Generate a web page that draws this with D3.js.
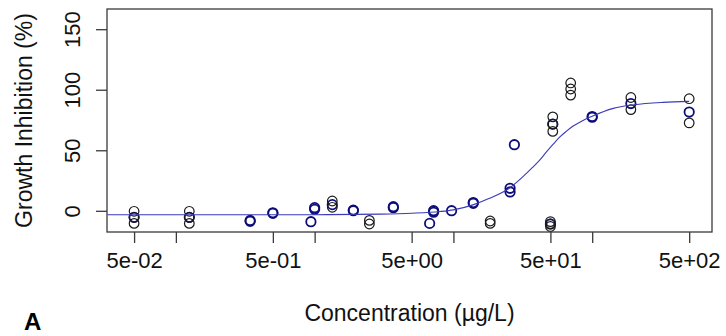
<!DOCTYPE html>
<html>
<head>
<meta charset="utf-8">
<script src="https://cdn.jsdelivr.net/npm/d3@7"></script>
<style>
  body { margin: 0; background: #fff; }
  svg { display: block; font-family: "Liberation Sans", Arial, sans-serif; }
</style>
</head>
<body>
<svg id="chart" width="726" height="336"></svg>
<script>
// Observations drawn in black (replicates)
const blackConc = [0.05, 0.05, 0.05, 0.125, 0.125, 0.125, 1.34, 1.34, 2.48, 2.48,
  18.4, 18.4, 52, 52, 52, 50, 50, 50, 70, 70, 70, 190, 190, 500, 500];
const blackResp = [0, -5, -10, 0, -5, -10, 8.5, 3.3, -7.5, -10.5,
  -8, -10, 78, 72, 66, -8.5, -10.5, -12.5, 106, 101, 96, 94, 84, 93, 73];

// Observations drawn in navy
const navyConc = [0.05, 0.125, 0.343, 0.343, 0.5, 0.5, 0.94, 1, 1, 1.34, 1.9, 1.9,
  3.69, 3.69, 6.74, 7.2, 7.2, 9.7, 13.9, 13.9, 25.6, 25.6, 27.5, 52, 50,
  100, 100, 190, 500];
const navyResp = [-5, -5, -7.5, -8.3, -1.2, -1.7, -8.6, 1.6, 3, 5.5, 0.5, 1,
  3, 3.8, -10, 0.5, -0.8, 0.5, 6.6, 7.2, 19, 16, 55, 72, -10.5,
  77.7, 78.3, 89, 82];

// Fitted dose-response curve
const fitConc = [0.032, 0.05, 1, 3, 5, 8, 10, 14, 18, 25.6, 32, 37, 42, 46, 52, 58, 65, 72, 82, 100, 142, 200, 325, 500];
const fitResp = [-2.8, -2.8, -2.8, -2.3, -1.6, -0.2, 1.2, 5.5, 10.5, 19.5, 29, 36, 42.5, 48, 55, 61, 66, 70, 73.8, 78.5, 85, 88, 90, 90.8];

const xTicks = [0.05, 0.1, 0.5, 1, 5, 10, 50, 100, 500];
const xLabels = ["5e-02", "", "5e-01", "", "5e+00", "", "5e+01", "", "5e+02"];
const yTicks = [0, 50, 100, 150];

const svg = d3.select("#chart");
const plotL = 107, plotR = 712, plotT = 9, plotB = 232;

const x = d3.scaleLog().domain([0.0319, 730]).range([plotL, plotR]);
const y = d3.scaleLinear().domain([-17.1, 167.1]).range([plotB, plotT]);

// Plot box
svg.append("rect")
  .attr("x", plotL).attr("y", plotT)
  .attr("width", plotR - plotL).attr("height", plotB - plotT)
  .attr("fill", "none")
  .attr("stroke", "#3a3a3a")
  .attr("stroke-width", 1.3);

// X axis
const xAxis = d3.axisBottom(x)
  .tickValues(xTicks)
  .tickFormat((d, i) => xLabels[i])
  .tickSize(11)
  .tickPadding(5);

const gx = svg.append("g")
  .attr("transform", `translate(0,${plotB})`)
  .call(xAxis);
gx.select(".domain").remove();
gx.selectAll("line").attr("stroke", "#3a3a3a").attr("stroke-width", 1.3);
gx.selectAll("text")
  .attr("font-size", "22px")
  .attr("font-family", "Liberation Sans, Arial, sans-serif")
  .attr("fill", "#111")
  .attr("dy", "0.9em");

// Y axis (labels parallel to axis)
const gy = svg.append("g").attr("transform", `translate(${plotL},0)`);
gy.selectAll("line")
  .data(yTicks)
  .join("line")
  .attr("x1", -11).attr("x2", 0)
  .attr("y1", d => y(d)).attr("y2", d => y(d))
  .attr("stroke", "#3a3a3a")
  .attr("stroke-width", 1.3);
gy.selectAll("text")
  .data(yTicks)
  .join("text")
  .attr("transform", d => `translate(-27,${y(d)}) rotate(-90)`)
  .attr("text-anchor", "middle")
  .attr("font-size", "22px")
  .attr("fill", "#111")
  .text(d => d);

// Axis titles
svg.append("text")
  .attr("x", (plotL + plotR) / 2)
  .attr("y", 321)
  .attr("text-anchor", "middle")
  .attr("font-size", "23px")
  .attr("fill", "#111")
  .text("Concentration (µg/L)");

svg.append("text")
  .attr("transform", `translate(32,${(plotT + plotB) / 2}) rotate(-90)`)
  .attr("text-anchor", "middle")
  .attr("font-size", "23px")
  .attr("fill", "#111")
  .text("Growth Inhibition (%)");

// Panel letter
svg.append("text")
  .attr("x", 24)
  .attr("y", 330)
  .attr("font-size", "24px")
  .attr("font-weight", "bold")
  .attr("fill", "#000")
  .text("A");

// Points
svg.append("g")
  .selectAll("circle")
  .data(navyConc.map((c, i) => [c, navyResp[i]]))
  .join("circle")
  .attr("cx", d => x(d[0]))
  .attr("cy", d => y(d[1]))
  .attr("r", 4.7)
  .attr("fill", "none")
  .attr("stroke", "#0c0c7a")
  .attr("stroke-width", 1.8);

svg.append("g")
  .selectAll("circle")
  .data(blackConc.map((c, i) => [c, blackResp[i]]))
  .join("circle")
  .attr("cx", d => x(d[0]))
  .attr("cy", d => y(d[1]))
  .attr("r", 4.8)
  .attr("fill", "none")
  .attr("stroke", "#1a1a1a")
  .attr("stroke-width", 1.2);

// Fitted curve
const line = d3.line()
  .x(d => x(d[0]))
  .y(d => y(d[1]))
  .curve(d3.curveMonotoneX);

svg.append("path")
  .datum(fitConc.map((c, i) => [c, fitResp[i]]))
  .attr("d", line)
  .attr("fill", "none")
  .attr("stroke", "#3a3ab8")
  .attr("stroke-width", 1.1);
</script>
</body>
</html>
